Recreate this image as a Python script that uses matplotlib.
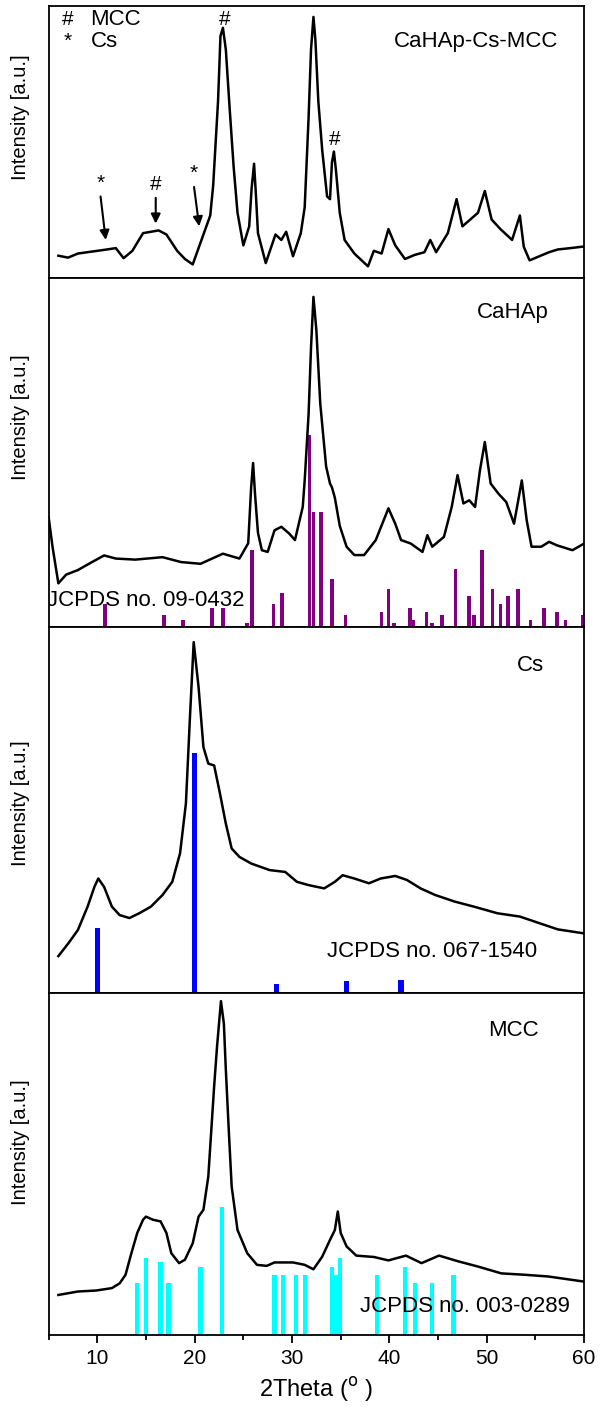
import matplotlib
matplotlib.use('Agg')
import matplotlib.pyplot as plt

plt.rcParams['font.family'] = ['Liberation Sans', 'DejaVu Sans']

# ---- CaHAp-Cs-MCC (top panel) ----
comp_x = [6.0, 7.0, 8.0, 9.0, 10.0, 11.0, 11.9, 12.7, 13.6, 14.7, 15.5, 16.3, 17.1, 18.2, 19.0, 19.8,
          20.6, 21.6, 21.9, 22.4, 22.65, 22.9, 23.2, 23.6, 24.0, 24.4, 25.0, 25.6, 25.85, 26.1, 26.3,
          26.5, 27.3, 28.3, 28.9, 29.4, 30.1, 30.9, 31.3, 31.7, 31.95, 32.2, 32.4, 32.7, 33.1, 33.6,
          33.9, 34.1, 34.3, 34.5, 34.9, 35.4, 36.4, 37.8, 38.4, 39.2, 39.9, 40.6, 41.6, 42.6, 43.6,
          44.2, 44.8, 46.0, 46.9, 47.5, 48.3, 49.1, 49.8, 50.5, 51.4, 52.6, 53.4, 53.8, 54.4, 55.4,
          56.4, 57.3, 58.6, 60.0]
comp_y = [0.082, 0.075, 0.090, 0.095, 0.100, 0.105, 0.110, 0.073, 0.100, 0.165, 0.170, 0.175, 0.160,
          0.100, 0.070, 0.050, 0.130, 0.230, 0.340, 0.650, 0.890, 0.920, 0.840, 0.620, 0.410, 0.240,
          0.120, 0.190, 0.330, 0.420, 0.300, 0.165, 0.055, 0.160, 0.140, 0.170, 0.080, 0.165, 0.260,
          0.590, 0.840, 0.960, 0.875, 0.650, 0.470, 0.300, 0.290, 0.425, 0.465, 0.400, 0.240, 0.140,
          0.090, 0.043, 0.100, 0.090, 0.180, 0.120, 0.070, 0.085, 0.095, 0.140, 0.095, 0.165, 0.290,
          0.190, 0.215, 0.240, 0.320, 0.215, 0.180, 0.140, 0.230, 0.115, 0.065, 0.080, 0.095, 0.105,
          0.110, 0.116]

# ---- CaHAp ----
hap_x = [5.0, 5.4, 6.0, 6.8, 8.0, 9.2, 10.7, 11.9, 13.9, 16.7, 18.6, 20.6, 22.9, 24.6, 25.5, 25.8,
         26.0, 26.2, 26.5, 26.9, 27.5, 28.2, 28.9, 29.7, 30.3, 31.1, 31.3, 31.7, 31.95, 32.2, 32.5,
         32.9, 33.5, 33.9, 34.1, 34.4, 34.9, 35.6, 36.4, 37.4, 38.6, 39.9, 40.6, 41.2, 42.2, 43.4,
         43.9, 44.4, 45.6, 46.4, 47.0, 47.6, 48.2, 48.8, 49.3, 49.8, 50.4, 51.2, 52.0, 52.8, 53.6,
         54.1, 54.6, 55.6, 56.4, 57.2, 58.8, 60.0]
hap_y = [0.315, 0.230, 0.125, 0.150, 0.163, 0.182, 0.205, 0.196, 0.193, 0.200, 0.186, 0.181, 0.210,
         0.196, 0.240, 0.400, 0.470, 0.380, 0.270, 0.220, 0.215, 0.277, 0.287, 0.268, 0.249, 0.344,
         0.420, 0.610, 0.800, 0.946, 0.850, 0.640, 0.460, 0.411, 0.400, 0.370, 0.290, 0.230, 0.206,
         0.206, 0.249, 0.340, 0.296, 0.249, 0.239, 0.215, 0.263, 0.230, 0.258, 0.344, 0.435, 0.354,
         0.363, 0.344, 0.449, 0.530, 0.411, 0.382, 0.358, 0.296, 0.420, 0.306, 0.230, 0.230, 0.244,
         0.234, 0.220, 0.239]
hap_ref_x = [10.8, 16.85, 18.8, 21.8, 22.9, 25.4, 25.9, 28.1, 29.0, 31.8, 32.2, 33.0, 34.1, 35.5,
             39.2, 39.9, 40.5, 42.1, 42.4, 43.8, 44.4, 45.4, 46.8, 48.2, 48.7, 49.5, 50.6, 51.4,
             52.2, 53.2, 54.5, 55.9, 57.2, 58.1, 59.9]
hap_ref_h = [0.067, 0.033, 0.021, 0.053, 0.053, 0.011, 0.220, 0.067, 0.098, 0.550, 0.330, 0.330,
             0.137, 0.033, 0.043, 0.108, 0.011, 0.053, 0.021, 0.043, 0.011, 0.033, 0.165, 0.088,
             0.033, 0.220, 0.108, 0.067, 0.088, 0.108, 0.021, 0.053, 0.043, 0.021, 0.033]

# ---- Cs ----
cs_x = [6.0, 7.0, 8.0, 9.0, 9.7, 10.1, 10.7, 11.5, 12.3, 13.3, 14.3, 15.5, 16.7, 17.7, 18.5, 19.1,
        19.5, 19.9, 20.4, 20.9, 21.4, 22.0, 22.6, 23.2, 23.8, 24.6, 25.8, 27.7, 29.3, 30.5, 31.7,
        33.3, 34.4, 35.2, 36.4, 37.9, 39.1, 40.6, 41.8, 43.2, 44.7, 46.7, 48.7, 51.1, 53.4, 55.4,
        57.3, 60.0]
cs_y = [0.101, 0.135, 0.172, 0.236, 0.290, 0.313, 0.290, 0.236, 0.213, 0.205, 0.218, 0.236, 0.268,
        0.304, 0.382, 0.518, 0.745, 0.959, 0.836, 0.672, 0.627, 0.622, 0.545, 0.463, 0.395, 0.372,
        0.354, 0.336, 0.331, 0.304, 0.295, 0.286, 0.304, 0.322, 0.313, 0.300, 0.313, 0.320, 0.309,
        0.286, 0.268, 0.250, 0.236, 0.218, 0.209, 0.191, 0.174, 0.163]
cs_ref_x = [10.0, 20.0, 28.4, 35.6, 41.2]
cs_ref_h = [0.178, 0.655, 0.025, 0.033, 0.035]

# ---- MCC ----
mcc_x = [6.0, 8.0, 9.9, 11.5, 12.3, 12.9, 13.5, 14.1, 14.7, 15.0, 15.7, 16.5, 17.1, 17.6, 18.4, 19.0,
         19.8, 20.4, 20.9, 21.4, 22.0, 22.3, 22.7, 23.0, 23.2, 23.5, 23.8, 24.4, 25.4, 26.4, 27.4,
         28.2, 30.1, 31.3, 32.2, 33.1, 33.9, 34.4, 34.7, 35.0, 35.6, 36.6, 38.4, 39.9, 41.7, 43.3,
         45.1, 47.1, 49.1, 51.5, 53.9, 56.3, 60.0]
mcc_y = [0.117, 0.127, 0.130, 0.137, 0.151, 0.176, 0.239, 0.298, 0.337, 0.346, 0.337, 0.332, 0.298,
         0.239, 0.210, 0.220, 0.268, 0.346, 0.366, 0.463, 0.727, 0.844, 0.976, 0.910, 0.776, 0.600,
         0.434, 0.307, 0.239, 0.205, 0.202, 0.212, 0.212, 0.205, 0.192, 0.229, 0.278, 0.307, 0.361,
         0.298, 0.259, 0.232, 0.228, 0.218, 0.232, 0.210, 0.232, 0.215, 0.200, 0.180, 0.176, 0.171,
         0.156]
mcc_ref_x = [14.1, 15.0, 16.5, 17.3, 20.6, 22.8, 28.2, 29.1, 30.4, 31.3, 34.1, 34.5, 34.9, 38.7,
             41.6, 42.6, 44.4, 46.6]
mcc_ref_h = [0.151, 0.224, 0.212, 0.151, 0.200, 0.374, 0.176, 0.176, 0.176, 0.176, 0.200, 0.176,
             0.224, 0.176, 0.200, 0.151, 0.151, 0.176]

fig = plt.figure(figsize=(6.04, 14.07), dpi=100)

left, width = 0.0805, 0.8866
# bottom, height of each panel in figure fraction
boxes = [(0.8024, 0.1933), (0.5544, 0.2480), (0.2942, 0.2601), (0.0512, 0.2431)]
label_y = [0.59, 0.60, 0.52, 0.565]
axes = []
for (b, h), ly in zip(boxes, label_y):
    ax = fig.add_axes([left, b, width, h])
    ax.set_xlim(5, 60)
    ax.set_ylim(0, 1)
    ax.set_yticks([])
    for s in ax.spines.values():
        s.set_linewidth(1.3)
    ax.set_ylabel('Intensity [a.u.]', fontsize=14.5)
    ax.yaxis.set_label_coords(-0.035, ly)
    axes.append(ax)

for ax in axes[:3]:
    ax.set_xticks([])

ax1, ax2, ax3, ax4 = axes
lw = 1.8

# panel 1
ax1.plot(comp_x, comp_y, color='black', lw=lw)
ax1.text(48.9, 0.87, 'CaHAp-Cs-MCC', fontsize=16, ha='center', va='center')
ax1.text(7.0, 0.95, '#', fontsize=15, ha='center', va='center')
ax1.text(9.3, 0.95, 'MCC', fontsize=16, ha='left', va='center')
ax1.text(7.0, 0.87, '*', fontsize=15, ha='center', va='center')
ax1.text(9.3, 0.87, 'Cs', fontsize=16, ha='left', va='center')
ax1.text(23.1, 0.95, '#', fontsize=15, ha='center', va='center')
ax1.text(34.4, 0.51, '#', fontsize=15, ha='center', va='center')
arrow = dict(arrowstyle='-|>', color='black', lw=1.5, mutation_scale=14)
marks = [('*', 10.3, 0.35, 10.9, 0.13), ('#', 16.0, 0.345, 16.0, 0.19), ('*', 19.9, 0.385, 20.5, 0.18)]
for sym, tx, ty, px, py in marks:
    ax1.text(tx, ty, sym, fontsize=15, ha='center', va='center')
    ax1.annotate('', xy=(px, py), xytext=(tx, ty - 0.04), arrowprops=arrow)

# panel 2
ax2.bar(hap_ref_x, hap_ref_h, width=0.38, color='#800080')
ax2.plot(hap_x, hap_y, color='black', lw=lw)
ax2.text(52.7, 0.90, 'CaHAp', fontsize=16, ha='center', va='center')
ax2.text(4.85, 0.077, 'JCPDS no. 09-0432', fontsize=16, ha='left', va='center', clip_on=True)

# panel 3
ax3.bar(cs_ref_x, cs_ref_h, width=0.55, color='#0000FF')
ax3.plot(cs_x, cs_y, color='black', lw=lw)
ax3.text(54.5, 0.895, 'Cs', fontsize=16, ha='center', va='center')
ax3.text(44.4, 0.113, 'JCPDS no. 067-1540', fontsize=16, ha='center', va='center')

# panel 4
ax4.bar(mcc_ref_x, mcc_ref_h, width=0.45, color='#00FFFF')
ax4.plot(mcc_x, mcc_y, color='black', lw=lw)
ax4.text(52.7, 0.89, 'MCC', fontsize=16, ha='center', va='center')
ax4.text(47.8, 0.083, 'JCPDS no. 003-0289', fontsize=16, ha='center', va='center', zorder=5)

ax4.set_xticks([10, 20, 30, 40, 50, 60])
ax4.set_xticks([5, 15, 25, 35, 45, 55], minor=True)
ax4.tick_params(axis='x', which='major', direction='out', length=6, width=1.3, labelsize=15, pad=4)
ax4.tick_params(axis='x', which='minor', direction='out', length=3.5, width=1.3)
ax4.set_xlabel('2Theta ($^{\\mathrm{o}}$ )', fontsize=17, labelpad=5)

fig.savefig('out.png', dpi=100)
